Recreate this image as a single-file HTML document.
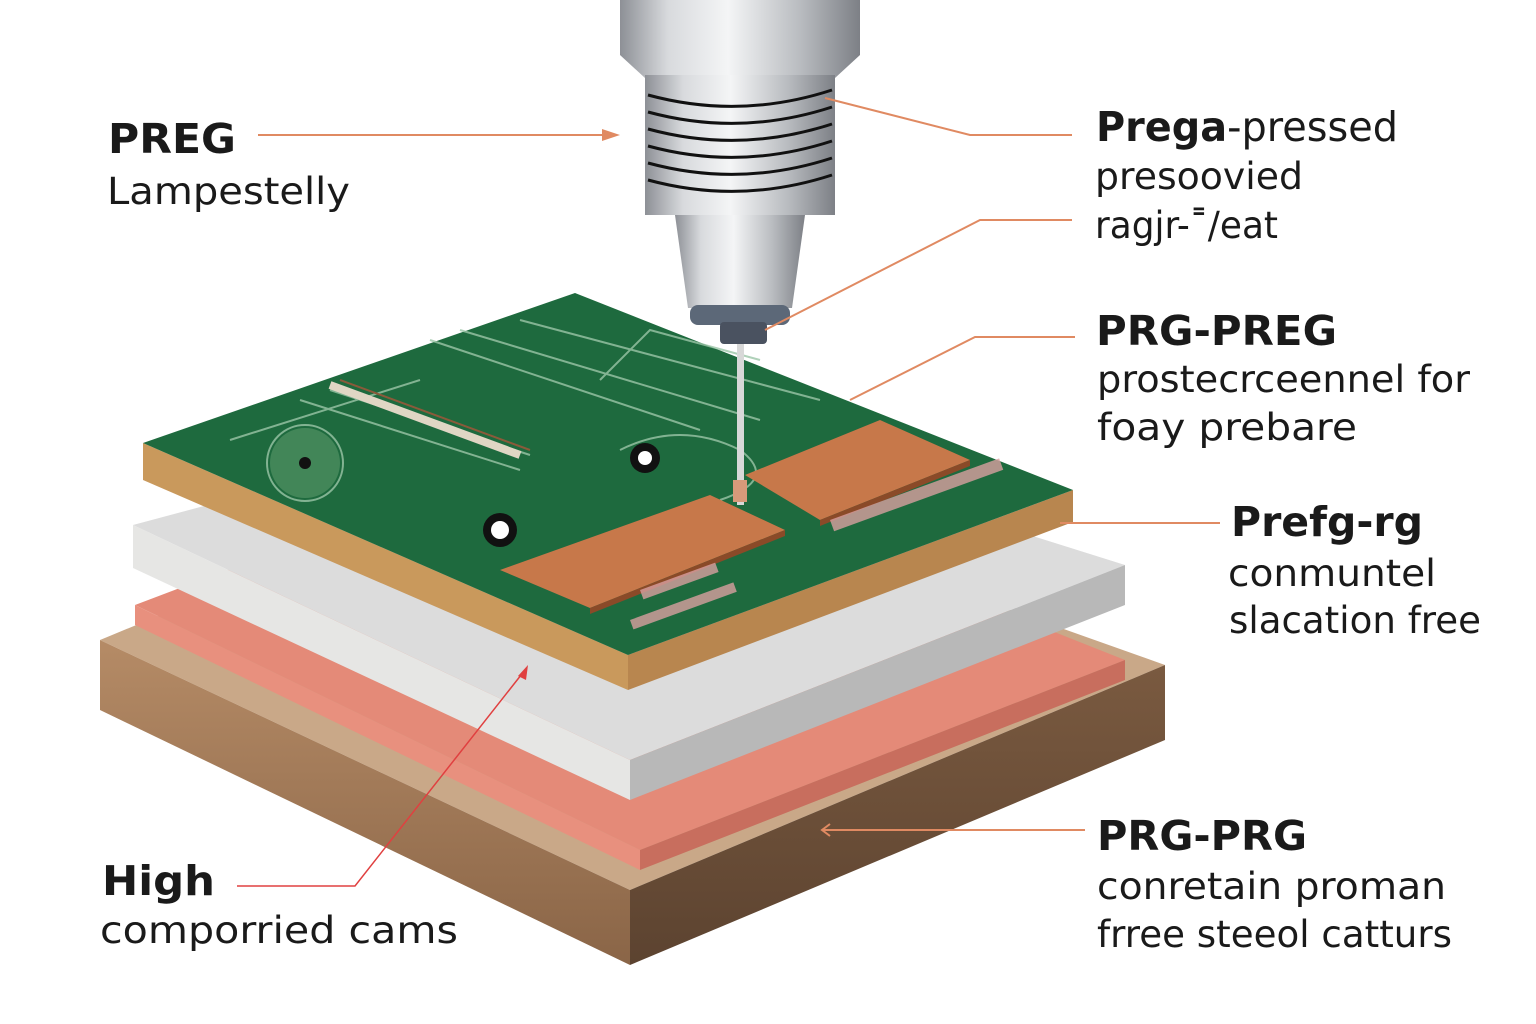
<!DOCTYPE html>
<html><head><meta charset="utf-8"><style>
body{margin:0;background:#fff;width:1536px;height:1024px;overflow:hidden}
svg{display:block}
text{font-family:"DejaVu Sans","Liberation Sans",sans-serif;fill:#1a1a1a}
.b{font-weight:bold;font-size:41px}
.n{font-size:37px}
</style></head><body>
<svg width="1536" height="1024" viewBox="0 0 1536 1024">
<defs>
<linearGradient id="metal" x1="0" x2="1">
<stop offset="0" stop-color="#8d9096"/><stop offset=".2" stop-color="#d8dadd"/><stop offset=".45" stop-color="#f4f5f6"/><stop offset=".75" stop-color="#b9bcc0"/><stop offset="1" stop-color="#7d8086"/>
</linearGradient>
<linearGradient id="base" x1="0" y1="0" x2="0" y2="1"><stop offset="0" stop-color="#b58b66"/><stop offset="1" stop-color="#8a6547"/></linearGradient>
<linearGradient id="baseR" x1="0" y1="0" x2="0" y2="1"><stop offset="0" stop-color="#7a5a40"/><stop offset="1" stop-color="#5c4330"/></linearGradient>
</defs>
<polygon points="100,640 560,450 1165,665 630,890" fill="#c9a888"/>
<polygon points="100,640 630,890 630,965 100,710" fill="url(#base)"/>
<polygon points="630,890 1165,665 1165,740 630,965" fill="url(#baseR)"/>
<polygon points="135,605 570,440 1125,660 640,850" fill="#e48a78"/>
<polygon points="135,605 640,850 640,870 135,625" fill="#e8907e"/>
<polygon points="640,850 1125,660 1125,680 640,870" fill="#c86e5e"/>
<polygon points="133,525 600,400 1125,565 630,760" fill="#dcdcdc"/>
<polygon points="133,525 630,760 630,800 133,568" fill="#e6e6e4"/>
<polygon points="630,760 1125,565 1125,605 630,800" fill="#b8b8b8"/>
<polygon points="143,443 628,655 628,690 143,480" fill="#c9995c"/>
<polygon points="628,655 1073,490 1073,522 628,690" fill="#b8864f"/>
<polygon points="143,443 575,293 1073,490 628,655" fill="#1e6a3e"/>
<g stroke="#9cc6a8" stroke-width="2" fill="none" opacity=".8">
<path d="M230,440 L420,380 M300,400 L520,470 M430,340 L700,430 M460,330 L760,420 M520,320 L820,400 M330,390 L530,455"/>
<path d="M600,380 L650,330 L760,360 M620,450 q60,-30 120,0 q40,30 -20,50"/>
<circle cx="305" cy="463" r="38"/>
</g>
<path d="M330,385 L520,455" stroke="#e0d6c4" stroke-width="8"/>
<path d="M340,380 L530,450" stroke="#8a5a3a" stroke-width="2"/>
<circle cx="305" cy="463" r="35" fill="#5a9a6a" opacity=".6"/>
<circle cx="305" cy="463" r="6" fill="#111"/>
<circle cx="645" cy="458" r="15" fill="#111"/><circle cx="645" cy="458" r="7" fill="#fff"/>
<circle cx="500" cy="530" r="17" fill="#111"/><circle cx="500" cy="530" r="9" fill="#fff"/>
<polygon points="500,570 710,495 785,530 590,608" fill="#c7784a"/>
<polygon points="590,608 785,530 785,536 590,614" fill="#8a4a28"/>
<polygon points="745,475 880,420 970,460 820,520" fill="#c7784a"/>
<polygon points="820,520 970,460 970,466 820,526" fill="#8a4a28"/>
<g fill="#d9a0a0" opacity=".8">
<rect x="640" y="590" width="80" height="10" transform="rotate(-20 640 590)"/>
<rect x="830" y="520" width="180" height="12" transform="rotate(-20 830 520)"/>
<rect x="630" y="620" width="110" height="10" transform="rotate(-20 630 620)"/>
</g>
<rect x="737" y="340" width="7" height="165" fill="#d8d8d8"/>
<rect x="733" y="480" width="14" height="22" fill="#d79a7a"/>
<path d="M620,0 H860 V55 L835,78 H645 L620,55 Z" fill="url(#metal)"/>
<rect x="645" y="75" width="190" height="140" fill="url(#metal)"/>
<g stroke="#111" stroke-width="3" fill="none">
<path d="M648,95 Q740,120 832,90"/><path d="M648,112 Q740,137 832,107"/><path d="M648,129 Q740,154 832,124"/><path d="M648,146 Q740,171 832,141"/><path d="M648,163 Q740,188 832,158"/><path d="M648,180 Q740,205 832,175"/>
</g>
<path d="M675,215 H805 L792,308 H688 Z" fill="url(#metal)"/>
<rect x="690" y="305" width="100" height="20" rx="8" fill="#5c6878"/>
<rect x="720" y="322" width="47" height="22" rx="4" fill="#4a5260"/>
<g stroke="#e08a62" stroke-width="2" fill="none">
<path d="M258,135 H610"/>
<path d="M825,98 L970,135 H1072"/>
<path d="M765,330 L980,220 H1072"/>
<path d="M850,400 L975,337 H1075"/>
<path d="M1060,523 H1220"/>
<path d="M822,830 H1085"/>
</g>
<polygon points="620,135 602,129 602,141" fill="#e08a62"/>
<polyline points="830,824 822,830 830,836" stroke="#e08a62" stroke-width="2" fill="none"/>
<path d="M237,886 H355 L525,670" stroke="#e04040" stroke-width="1.5" fill="none"/>
<polygon points="528,665 518,676 526,680" fill="#e04040"/>
<text x="108" y="153" class="b" textLength="128" lengthAdjust="spacingAndGlyphs">PREG</text>
<text x="107" y="204" class="n" textLength="243" lengthAdjust="spacingAndGlyphs">Lampestelly</text>
<text x="1096" y="141" class="b" textLength="302" lengthAdjust="spacingAndGlyphs">Prega<tspan font-weight="normal">-pressed</tspan></text>
<text x="1095" y="189" class="n" textLength="208" lengthAdjust="spacingAndGlyphs">presoovied</text>
<text x="1095" y="238" class="n" textLength="183" lengthAdjust="spacingAndGlyphs">ragjr-˭/eat</text>
<text x="1096" y="345" class="b" textLength="241" lengthAdjust="spacingAndGlyphs">PRG-PREG</text>
<text x="1097" y="392" class="n" textLength="373" lengthAdjust="spacingAndGlyphs">prostecrceennel for</text>
<text x="1097" y="440" class="n" textLength="260" lengthAdjust="spacingAndGlyphs">foay  prebare</text>
<text x="1231" y="536" class="b" textLength="192" lengthAdjust="spacingAndGlyphs">Prefg-rg</text>
<text x="1228" y="586" class="n" textLength="208" lengthAdjust="spacingAndGlyphs">conmuntel</text>
<text x="1229" y="633" class="n" textLength="252" lengthAdjust="spacingAndGlyphs">slacation free</text>
<text x="1097" y="850" class="b" textLength="210" lengthAdjust="spacingAndGlyphs">PRG-PRG</text>
<text x="1097" y="899" class="n" textLength="349" lengthAdjust="spacingAndGlyphs">conretain proman</text>
<text x="1097" y="947" class="n" textLength="355" lengthAdjust="spacingAndGlyphs">frree steeol catturs</text>
<text x="102" y="895" class="b" textLength="113" lengthAdjust="spacingAndGlyphs">High</text>
<text x="100" y="943" class="n" textLength="358" lengthAdjust="spacingAndGlyphs">comporried cams</text>
</svg>
</body></html>
